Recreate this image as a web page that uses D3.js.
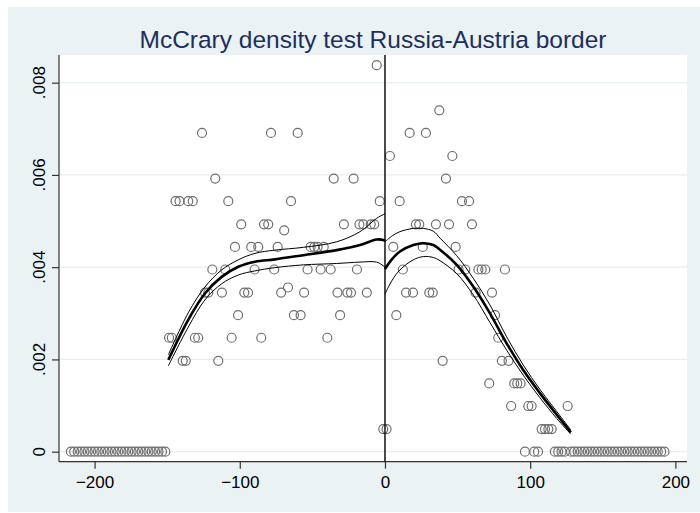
<!DOCTYPE html>
<html>
<head>
<meta charset="utf-8">
<script src="https://cdn.jsdelivr.net/npm/d3@7"></script>
<style>
  body { margin: 0; background: #fff; }
  svg { display: block; }
</style>
</head>
<body>
<div class="chart"></div>
<script>
// bins: midpoint and density
const binX = [
  -216.3, -214.0, -211.6, -209.3, -207.0, -204.7, -202.4, -200.0, -197.7, -195.4,
  -193.1, -190.8, -188.4, -186.1, -183.8, -181.5, -179.2, -176.8, -174.5, -172.2,
  -169.9, -167.6, -165.2, -162.9, -160.6, -158.3, -156.0, -153.6, -151.3,
  -148.7, -146.8, -144.2, -141.5, -139.3, -137.2, -135.5, -132.4, -130.9, -128.6,
  -126.0, -124.0, -121.7, -118.9, -116.9, -114.8, -112.3, -110.0, -107.9, -105.6,
  -103.3, -101.2, -99.0, -96.9, -94.3, -92.1, -89.8, -87.3, -85.2, -83.3,
  -80.4, -78.5, -76.3, -73.9, -71.5, -69.4, -66.8, -64.7, -62.7, -60.1,
  -58.1, -55.7, -53.3, -51.2, -48.7, -46.4, -44.3, -42.2, -39.7, -37.4,
  -35.3, -32.7, -30.9, -28.3, -25.9, -23.4, -21.6, -19.3, -17.6, -14.9,
  -12.5, -9.8, -7.4, -5.7, -3.6, -1.2,
  1.1, 3.4, 5.7, 7.8, 10.1, 12.3, 14.5, 17.0, 19.3, 21.3,
  23.6, 26.0, 28.2, 30.5, 32.9, 35.1, 37.4, 39.7, 42.0, 44.1,
  46.4, 48.7, 50.7, 53.0, 55.3, 57.9, 59.9, 62.4, 64.3, 66.6,
  69.1, 71.8, 73.7, 75.8, 78.0, 80.5, 82.6, 85.1, 86.9, 89.0,
  91.1, 93.4, 96.4, 98.7, 101.0, 102.8, 105.4, 107.9, 110.2, 112.5,
  114.8, 117.0, 119.3, 121.6, 123.9, 125.8,
  128.1, 130.4, 132.7, 135.0, 137.3, 139.6, 141.9, 144.2, 146.5, 148.8,
  151.1, 153.4, 155.7, 158.0, 160.3, 162.6, 164.9, 167.2, 169.5, 171.8,
  174.1, 176.4, 178.7, 181.0, 183.3, 185.6, 187.9, 190.2, 192.5
];
const binY = [
  0, 0, 0, 0, 0, 0, 0, 0, 0, 0,
  0, 0, 0, 0, 0, 0, 0, 0, 0, 0,
  0, 0, 0, 0, 0, 0, 0, 0, 0,
  .00247, .00247, .00543, .00543, .00197, .00197, .00543, .00543, .00247, .00247,
  .00691, .00345, .00345, .00395, .00592, .00197, .00345, .00395, .00543, .00247,
  .00444, .00296, .00493, .00345, .00345, .00444, .00395, .00444, .00247, .00493,
  .00493, .00691, .00395, .00444, .00345, .00480, .00356, .00543, .00296, .00691,
  .00296, .00345, .00395, .00444, .00444, .00444, .00395, .00444, .00247, .00395,
  .00592, .00345, .00296, .00493, .00345, .00345, .00592, .00395, .00493, .00493,
  .00345, .00493, .00493, .00838, .00543, .00049,
  .00049, .00641, .00444, .00296, .00543, .00395, .00345, .00691, .00345, .00493,
  .00493, .00444, .00691, .00345, .00345, .00493, .00740, .00197, .00592, .00493,
  .00641, .00444, .00395, .00543, .00395, .00543, .00493, .00345, .00395, .00395,
  .00395, .00148, .00345, .00296, .00247, .00197, .00395, .00197, .00099, .00148,
  .00148, .00148, 0, .00099, .00099, 0, 0, .00049, .00049, .00049,
  .00049, 0, 0, 0, 0, .00099,
  0, 0, 0, 0, 0, 0, 0, 0, 0, 0,
  0, 0, 0, 0, 0, 0, 0, 0, 0, 0,
  0, 0, 0, 0, 0, 0, 0, 0, 0
];

// fitted density left of cutoff, with confidence band
const leftX   = [-149.2, -135.5, -124.0, -112.5, -101.0, -89.5, -75.8, -56.3, -33.3, -17.2, -5.7, -1.2, 0];
const leftFit = [.00199, .00286, .00343, .00379, .00401, .00412, .00417, .00426, .00437, .00448, .00460, .00459, .00457];
const leftHi  = [.00210, .00301, .00357, .00394, .00416, .00430, .00437, .00443, .00455, .00477, .00506, .00514, .00516];
const leftLo  = [.00186, .00270, .00329, .00364, .00383, .00392, .00399, .00405, .00408, .00411, .00411, .00403, .00400];

// fitted density right of cutoff
const rightX   = [0, 5, 10.3, 19.5, 26.4, 33.3, 37.9, 49.4, 60.8, 72.3, 83.8, 95.2, 106.7, 118.3, 128.0];
const rightFit = [.00396, .00418, .00434, .00448, .00452, .00448, .00438, .00405, .00358, .00300, .00235, .00177, .00127, .00080, .00042];
const rightHi  = [.00455, .00468, .00477, .00484, .00484, .00478, .00463, .00425, .00376, .00318, .00249, .00188, .00135, .00087, .00047];
const rightLo  = [.00342, .00372, .00394, .00416, .00423, .00421, .00414, .00386, .00340, .00280, .00220, .00166, .00117, .00072, .00038];

const xTicks = [-200, -100, 0, 100, 200];
const yTicks = [0, .002, .004, .006, .008];
const yTickLabels = ["0", ".002", ".004", ".006", ".008"];
const title = "McCrary density test Russia-Austria border";

const W = 700, H = 513;
const plot = {left: 59, right: 687, top: 55, bottom: 461.7};
const font = "'Liberation Sans', Arial, Helvetica, sans-serif";

var svg = d3.select(".chart")
            .append("svg")
            .attr("width", W)
            .attr("height", H);

// graph region + plot region
svg.append("rect")
   .attr("x", 8).attr("y", 7)
   .attr("width", W - 8).attr("height", 505)
   .attr("fill", "#eaf2f3");
svg.append("rect")
   .attr("x", plot.left).attr("y", plot.top)
   .attr("width", plot.right - plot.left).attr("height", plot.bottom - plot.top)
   .attr("fill", "#ffffff");

var x = d3.scaleLinear().domain([-224.5, 208]).range([plot.left, plot.right]);
var y = d3.scaleLinear().domain([-0.000217, 0.0086]).range([plot.bottom, plot.top]);

// grid
svg.append("g").selectAll("line")
   .data(yTicks)
   .join("line")
   .attr("x1", plot.left).attr("x2", plot.right)
   .attr("y1", d => y(d)).attr("y2", d => y(d))
   .attr("stroke", "#e6eef0")
   .attr("stroke-width", 1.2);

// axes
var xAxis = svg.append("g")
   .attr("transform", `translate(0,${plot.bottom})`)
   .call(d3.axisBottom(x).tickValues(xTicks).tickSize(7).tickSizeOuter(0).tickPadding(7));
var yAxis = svg.append("g")
   .attr("transform", `translate(${plot.left},0)`)
   .call(d3.axisLeft(y).tickValues(yTicks).tickSize(7).tickSizeOuter(0).tickFormat(""));

[xAxis, yAxis].forEach(g => {
  g.select(".domain").attr("stroke", "#333").attr("stroke-width", 1.2);
  g.selectAll(".tick line").attr("stroke", "#333").attr("stroke-width", 1.2);
});
xAxis.select(".domain").attr("d", `M${plot.left},0H${plot.right}`);
yAxis.select(".domain").attr("d", `M0,${plot.bottom}V${plot.top}`);
xAxis.selectAll(".tick text")
   .attr("font-family", font).attr("font-size", 17).attr("fill", "#000");

svg.append("g").selectAll("text")
   .data(yTicks)
   .join("text")
   .attr("transform", d => `translate(45,${y(d)}) rotate(-90)`)
   .attr("text-anchor", "middle")
   .attr("font-family", font).attr("font-size", 17).attr("fill", "#000")
   .text((d, i) => yTickLabels[i]);

// bin scatter
svg.append("g").selectAll("circle")
   .data(binX.map((d, i) => [d, binY[i]]))
   .join("circle")
   .attr("cx", d => x(d[0]))
   .attr("cy", d => y(d[1]))
   .attr("r", 4.5)
   .attr("fill", "none")
   .attr("stroke", "#6f6f6f")
   .attr("stroke-width", 1.2);

// cutoff line
svg.append("line")
   .attr("x1", x(0)).attr("x2", x(0))
   .attr("y1", plot.top).attr("y2", plot.bottom)
   .attr("stroke", "#111").attr("stroke-width", 1.5);

// fitted curves
var line = d3.line().curve(d3.curveCatmullRom.alpha(0.5));
function drawCurve(xs, ys, w) {
  svg.append("path")
     .attr("d", line(xs.map((d, i) => [x(d), y(ys[i])])))
     .attr("fill", "none")
     .attr("stroke", "#000")
     .attr("stroke-width", w);
}
drawCurve(leftX, leftHi, 1);
drawCurve(leftX, leftLo, 1);
drawCurve(leftX, leftFit, 2.6);
drawCurve(rightX, rightHi, 1);
drawCurve(rightX, rightLo, 1);
drawCurve(rightX, rightFit, 2.6);

// title
svg.append("text")
   .attr("x", (plot.left + plot.right) / 2)
   .attr("y", 48)
   .attr("text-anchor", "middle")
   .attr("font-family", font)
   .attr("font-size", 24.5)
   .attr("fill", "#1e2f5e")
   .text(title);
</script>
</body>
</html>
